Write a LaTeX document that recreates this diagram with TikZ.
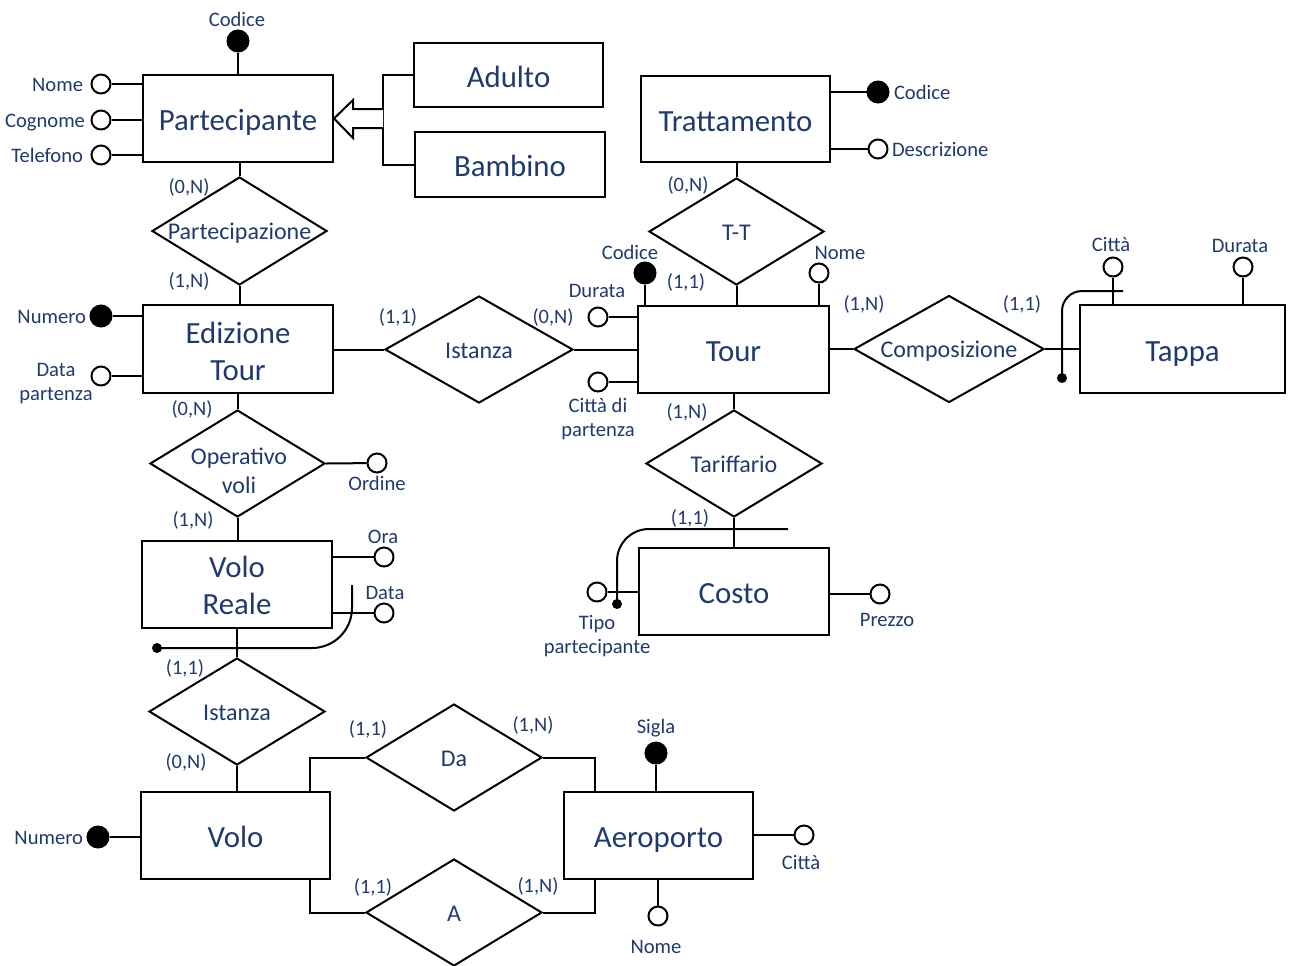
\documentclass[tikz,border=0pt]{standalone}
\usepackage{fontspec}
\setmainfont{Carlito}
\usetikzlibrary{shapes.geometric}
\definecolor{navy}{HTML}{1F3A6E}
\newcommand\zb[1]{\makebox[0pt]{#1}}
\begin{document}
\begin{tikzpicture}[x=0.5pt,y=-0.5pt, line width=1pt,
 ent/.style={draw, rectangle, minimum width=95pt, minimum height=43.5pt, inner sep=0pt, align=center, text=navy, font=\fontsize{15.4}{19}\selectfont, text depth=3pt, text height=15pt},
 entbox/.style={draw, rectangle, minimum width=95pt, minimum height=43.5pt, inner sep=0pt},
 enttext/.style={inner sep=0pt, align=center, text=navy, font=\fontsize{15.4}{18.4}\selectfont},
 rel/.style={draw, diamond, minimum width=88pt, minimum height=53.5pt, inner sep=0pt, text=navy, font=\fontsize{12}{14.5}\selectfont, text depth=2pt, text height=10.7pt},
 reltext/.style={inner sep=0pt, align=center, text=navy, font=\fontsize{12}{14.6}\selectfont},
 att/.style={draw, circle, fill=white, minimum size=9.5pt, inner sep=0pt},
 key/.style={draw, circle, fill=black, minimum size=10.5pt, inner sep=0pt},
 lbl/.style={text=navy, font=\fontsize{10.3}{12}\selectfont, inner sep=0pt, text depth=2pt, text height=9.6pt},
 lbltwo/.style={text=navy, font=\fontsize{10.3}{12}\selectfont, inner sep=0pt, align=center},
 card/.style={text=navy, font=\fontsize{10.2}{12}\selectfont, inner sep=0pt, text depth=2pt, text height=9.5pt},
 dot/.style={circle, fill=black, minimum size=5pt, inner sep=0pt}
]
\useasboundingbox (0,0) rectangle (1289,965);

% entities
\node[ent] (part) at (238,118.5) {Partecipante};
\node[ent, minimum width=94.5pt, minimum height=32pt] (adulto) at (508.5,75) {Adulto};
\node[ent, minimum height=32.5pt] (bambino) at (510,164.5) {Bambino};
\node[ent, minimum width=94.5pt, minimum height=43pt] (tratt) at (735.5,119) {Trattamento};
\node[entbox, minimum height=44pt] (ediz) at (238,349) {};
\node[enttext] (edizt) at (238,351.5) {Edizione\\Tour};
\node[ent, minimum width=95.5pt] (tour) at (733.5,349.5) {Tour};
\node[ent, minimum width=102.5pt, minimum height=44pt] (tappa) at (1182.5,349) {Tappa};
\node[ent] (costo) at (734,591.5) {Costo};
\node[entbox] (vreale) at (237,584.5) {};
\node[enttext] (vrealet) at (237,585.5) {Volo\\Reale};
\node[ent, minimum width=94.5pt] (volo) at (235.5,835.5) {Volo};
\node[ent, minimum width=94.5pt] (aero) at (658.5,835.5) {Aeroporto};

% relationships
\node[rel, minimum width=87.5pt, minimum height=54pt] (partz) at (239.5,231) {\zb{Partecipazione}};
\node[rel, minimum width=94pt] (ist1) at (479,349.5) {\zb{Istanza}};
\node[rel, minimum width=87.5pt] (tt) at (736.5,231.5) {\zb{T-T}};
\node[rel, minimum width=95pt] (comp) at (949,349) {\zb{Composizione}};
\node[rel] (tariff) at (734,463.5) {\zb{Tariffario}};
\node[rel, minimum width=87.5pt] (opv) at (237.5,463.5) {};
\node[reltext] (opvt) at (239,471) {Operativo\\voli};
\node[rel] (ist2) at (237,711.5) {\zb{Istanza}};
\node[rel] (da) at (454,757.5) {\zb{Da}};
\node[rel] (a) at (454,912.5) {\zb{A}};

% relationship connectors
\draw (partz.north) -- (partz.north |- part.south);
\draw (partz.south) -- (partz.south |- ediz.north);
\draw (ist1.west) -- (ist1.west -| ediz.east);
\draw (ist1.east) -- (ist1.east -| tour.west);
\draw (tt.north) -- (tt.north |- tratt.south);
\draw (tt.south) -- (tt.south |- tour.north);
\draw (comp.west) -- (comp.west -| tour.east);
\draw (comp.east) -- (comp.east -| tappa.west);
\draw (tariff.north) -- (tariff.north |- tour.south);
\draw (tariff.south) -- (tariff.south |- costo.north);
\draw (opv.north) -- (opv.north |- ediz.south);
\draw (opv.south) -- (opv.south |- vreale.north);
\draw (ist2.north) -- (ist2.north |- vreale.south);
\draw (ist2.south) -- (ist2.south |- volo.north);
\draw (da.west) -| ([xshift=-10.5pt]volo.north east);
\draw (da.east) -| ([xshift=16pt]aero.north west);
\draw (a.west) -| ([xshift=-10.5pt]volo.south east);
\draw (a.east) -| ([xshift=16pt]aero.south west);

% generalization
\draw (adulto.west) -| (383,120) |- (bambino.west);
\draw[fill=white] (383,109) -- (353,109) -- (353,100) -- (part.east) -- (353,138) -- (353,128) -- (383,128);

% Partecipante attributes
\node[key] (pcod) at (238,41) {};
\draw (pcod) -- (pcod |- part.north);
\node[lbl] (pcodl) at (237,19) {Codice};
\node[att] (pnom) at (101,84) {};
\draw (pnom) -- (pnom -| part.west);
\node[lbl, anchor=east] (pnoml) at (84,84) {Nome};
\node[att] (pcog) at (101,120) {};
\draw (pcog) -- (pcog -| part.west);
\node[lbl, anchor=east] (pcogl) at (86,120) {Cognome};
\node[att] (ptel) at (101,155) {};
\draw (ptel) -- (ptel -| part.west);
\node[lbl, anchor=east] (ptell) at (84,155) {Telefono};

% Trattamento attributes
\node[key] (tcod) at (878,92) {};
\draw (tcod) -- (tcod -| tratt.east);
\node[lbl, anchor=west] (tcodl) at (893,92) {Codice};
\node[att] (tdes) at (878,149) {};
\draw (tdes) -- (tdes -| tratt.east);
\node[lbl, anchor=west] (tdesl) at (891,149) {Descrizione};

% Edizione Tour attributes
\node[key] (enum) at (101,316) {};
\draw (enum) -- (enum -| ediz.west);
\node[lbl, anchor=east] (enuml) at (87,316) {Numero};
\node[att] (edat) at (101,376) {};
\draw (edat) -- (edat -| ediz.west);
\node[lbltwo] (edatl) at (56,383.5) {Data\\partenza};

% Tour attributes
\node[key] (rcod) at (645,273) {};
\draw (rcod) -- (rcod |- tour.north);
\node[lbl] (rcodl) at (630,252) {Codice};
\node[att] (rdur) at (598,317) {};
\draw (rdur) -- (rdur -| tour.west);
\node[lbl] (rdurl) at (597,290) {Durata};
\node[att] (rcit) at (598,382) {};
\draw (rcit) -- (rcit -| tour.west);
\node[lbltwo] (rcitl) at (598,419) {Città di\\partenza};
\node[att] (rnom) at (819,273) {};
\draw (rnom) -- (rnom |- tour.north);
\node[lbl] (rnoml) at (840,252) {Nome};

% Tappa attributes
\node[att] (acit2) at (1113,267) {};
\draw (acit2) -- (acit2 |- tappa.north);
\node[lbl] (acit2l) at (1111,244) {Città};
\node[att] (adur) at (1243,267) {};
\draw (adur) -- (adur |- tappa.north);
\node[lbl] (adurl) at (1240,245) {Durata};
\node[dot] (tapd) at (1062,378) {};
\draw[rounded corners=10pt] (tapd.center) -- (1062,291) -- (1123,291);

% Costo attributes
\node[att] (ctip) at (597,592) {};
\draw (ctip) -- (ctip -| costo.west);
\node[lbltwo] (ctipl) at (597,636.5) {Tipo\\partecipante};
\node[dot] (cd) at (617,604) {};
\draw[rounded corners=16pt] (cd.center) -- (617,529) -- (788,529);
\node[att] (cpre) at (880,594) {};
\draw (cpre) -- (cpre -| costo.east);
\node[lbl] (cprel) at (887,619) {Prezzo};

% Operativo voli attribute
\node[att] (ord) at (377,463) {};
\draw (opv.east) -- (ord);
\node[lbl] (ordl) at (377,483) {Ordine};

% Volo Reale attributes
\node[att] (ora) at (384,557) {};
\draw (ora) -- (ora -| vreale.east);
\node[lbl] (oral) at (383,536) {Ora};
\node[att] (vdat) at (384,613) {};
\draw (vdat) -- (vdat -| vreale.east);
\node[lbl] (vdatl) at (385,592) {Data};
\node[dot] (vd) at (157,648) {};
\draw[rounded corners=20pt] (vd.center) -- (352,648) -- (352,585);

% Volo attributes
\node[key] (vnum) at (98,837) {};
\draw (vnum) -- (vnum -| volo.west);
\node[lbl, anchor=east] (vnuml) at (84,837) {Numero};

% Aeroporto attributes
\node[key] (asig) at (656,753) {};
\draw (asig) -- (asig |- aero.north);
\node[lbl] (asigl) at (656,726) {Sigla};
\node[att] (acit) at (804,835) {};
\draw (acit) -- (acit -| aero.east);
\node[lbl] (acitl) at (801,862) {Città};
\node[att] (anom) at (658,916) {};
\draw (anom) -- (anom |- aero.south);
\node[lbl] (anoml) at (656,946) {Nome};

% cardinalities
\node[card] (c1) at (189,186) {(0,N)};
\node[card] (c2) at (189,280) {(1,N)};
\node[card] (c3) at (398,316) {(1,1)};
\node[card] (c4) at (553,316) {(0,N)};
\node[card] (c5) at (688,184) {(0,N)};
\node[card] (c6) at (686,281) {(1,1)};
\node[card] (c7) at (864,303) {(1,N)};
\node[card] (c8) at (1022,303) {(1,1)};
\node[card] (c9) at (687,411) {(1,N)};
\node[card] (c10) at (690,517) {(1,1)};
\node[card] (c11) at (192,408) {(0,N)};
\node[card] (c12) at (193,519) {(1,N)};
\node[card] (c13) at (185,667) {(1,1)};
\node[card] (c14) at (186,761) {(0,N)};
\node[card] (c15) at (368,728) {(1,1)};
\node[card] (c16) at (533,724) {(1,N)};
\node[card] (c17) at (373,886) {(1,1)};
\node[card] (c18) at (538,885) {(1,N)};
\end{tikzpicture}
\end{document}
